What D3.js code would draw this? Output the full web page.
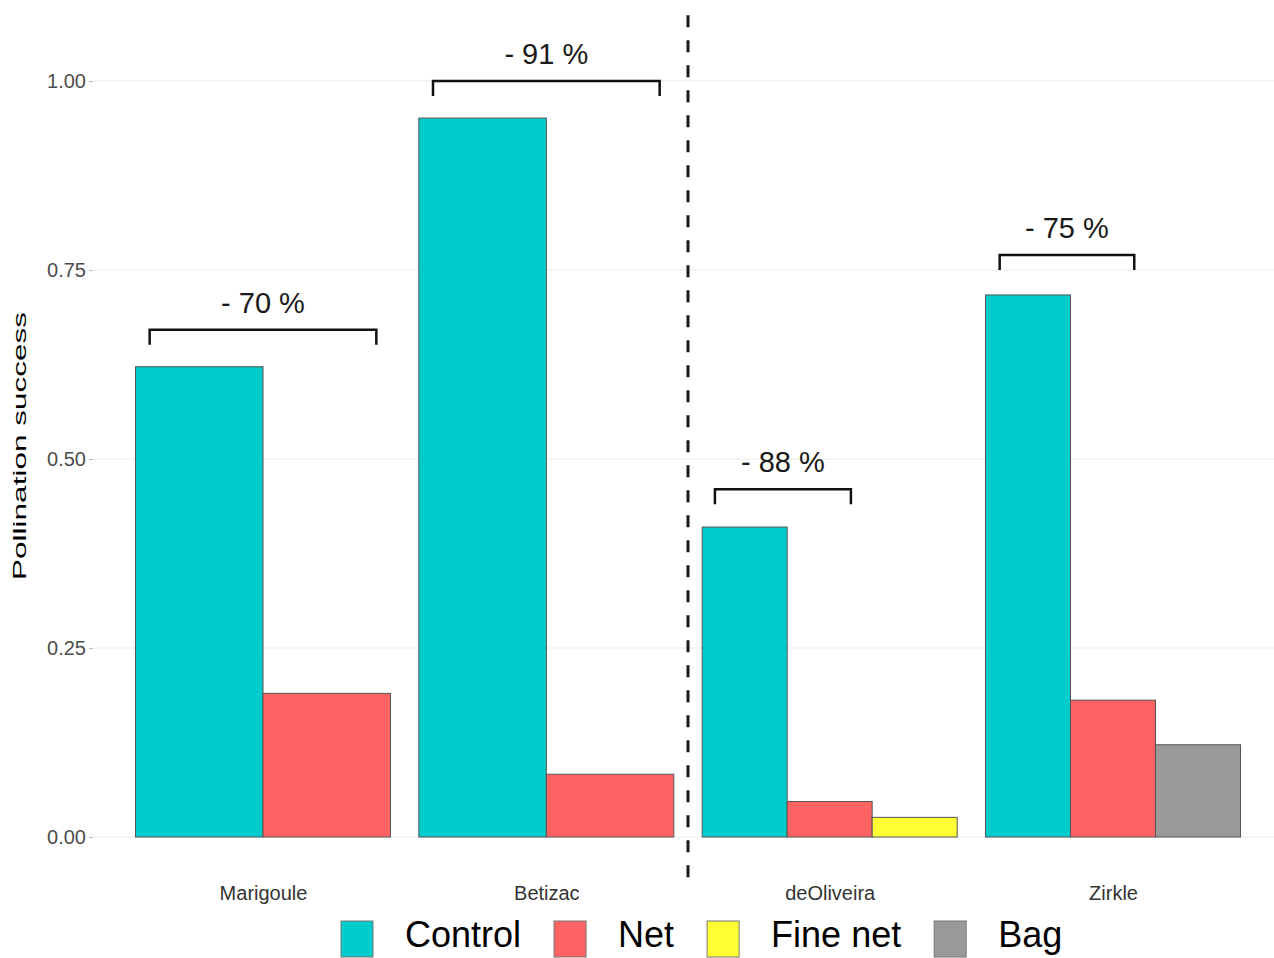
<!DOCTYPE html>
<html>
<head>
<meta charset="utf-8">
<script src="https://cdn.jsdelivr.net/npm/d3@7"></script>
<style>
  html, body { margin: 0; padding: 0; background: #fff; }
  svg { display: block; font-family: "Liberation Sans", Arial, sans-serif; }
</style>
</head>
<body>
<svg id="chart" width="1274" height="958"></svg>
<script>
// ---- Data ----
const categories = ["Marigoule", "Betizac", "deOliveira", "Zirkle"];
const treatments = ["Control", "Net", "Fine net", "Bag"];
const groupTreatments = [
  ["Control", "Net"],
  ["Control", "Net"],
  ["Control", "Net", "Fine net"],
  ["Control", "Net", "Bag"]
];
const groupValues = [
  [0.622, 0.190],
  [0.951, 0.083],
  [0.410, 0.047, 0.026],
  [0.717, 0.181, 0.122]
];
const reductionLabels = ["- 70 %", "- 91 %", "- 88 %", "- 75 %"];
const bracketY = [0.671, 1.0, 0.460, 0.770];
const bracketFrom = [-0.4, -0.4, -0.405, -0.4];
const bracketTo = [0.4, 0.4, 0.075, 0.075];
const yTicks = [0, 0.25, 0.5, 0.75, 1.0];
const colors = ["#00CCCC", "#FF6262", "#FFFF33", "#999999"];

// ---- Layout ----
const svg = d3.select("#chart");
const W = 1274, H = 958;
const panelLeft = 93, panelRight = 1283;

// ggplot-like discrete expansion of 0.6 step on each side
const step = (panelRight - panelLeft) / (categories.length - 1 + 1.2);
const xc = d3.scalePoint().domain(categories).range([panelLeft + 0.6 * step, panelRight - 0.6 * step]);

const y = d3.scaleLinear().domain([0, 1]).range([837, 81]);
const color = d3.scaleOrdinal().domain(treatments).range(colors);

// Grid lines
svg.append("g").selectAll("line").data(yTicks).join("line")
  .attr("x1", panelLeft).attr("x2", W)
  .attr("y1", d => y(d)).attr("y2", d => y(d))
  .attr("stroke", "#EBEBEB").attr("stroke-width", 1.2);

// Y axis
const yAxis = d3.axisLeft(y).tickValues(yTicks).tickFormat(d3.format(".2f")).tickSize(4).tickPadding(3);
const ya = svg.append("g").attr("transform", `translate(${panelLeft},0)`).call(yAxis);
ya.select(".domain").remove();
ya.selectAll(".tick line").attr("stroke", "#BBBBBB");
ya.selectAll(".tick text").attr("fill", "#4D4D4D").attr("font-size", 20)
  .attr("font-family", "Liberation Sans, Arial, sans-serif");

// Bars
const barsG = svg.append("g");
categories.forEach((cat, i) => {
  const groupW = 0.9 * step;
  const sub = d3.scaleBand().domain(groupTreatments[i]).range([xc(cat) - groupW / 2, xc(cat) + groupW / 2]);
  barsG.append("g").selectAll("rect")
    .data(groupTreatments[i].map((t, j) => ({ t, v: groupValues[i][j] })))
    .join("rect")
    .attr("x", d => sub(d.t))
    .attr("width", sub.bandwidth())
    .attr("y", d => y(d.v))
    .attr("height", d => y(0) - y(d.v))
    .attr("fill", d => color(d.t))
    .attr("stroke", "#555555")
    .attr("stroke-width", 1);
});

// X axis labels
const xa = svg.append("g").attr("transform", `translate(0,${y(0)})`)
  .call(d3.axisBottom(xc).tickSize(0).tickPadding(48));
xa.select(".domain").remove();
xa.selectAll(".tick text").attr("fill", "#333333").attr("font-size", 20)
  .attr("font-family", "Liberation Sans, Arial, sans-serif")
  .attr("dy", 0).attr("y", 63);

// Dashed separator between Betizac and deOliveira
const sepX = (xc("Betizac") + xc("deOliveira")) / 2;
svg.append("line")
  .attr("x1", sepX).attr("x2", sepX)
  .attr("y1", y(1.087)).attr("y2", y(-0.057))
  .attr("stroke", "#1a1a1a").attr("stroke-width", 3)
  .attr("stroke-dasharray", "12,13");

// Brackets & reduction labels
const tickDrop = 0.02;
categories.forEach((cat, i) => {
  const x1 = xc(cat) + bracketFrom[i] * step;
  const x2 = xc(cat) + bracketTo[i] * step;
  const by = y(bracketY[i]);
  const bt = y(bracketY[i] - tickDrop);
  svg.append("path")
    .attr("d", `M${x1},${bt}V${by}H${x2}V${bt}`)
    .attr("fill", "none").attr("stroke", "#111").attr("stroke-width", 2.5);
  svg.append("text")
    .attr("x", (x1 + x2) / 2).attr("y", by - 17)
    .attr("text-anchor", "middle").attr("font-size", 29).attr("fill", "#1a1a1a")
    .text(reductionLabels[i]);
});

// Y axis title (tall, narrow lettering as in the reference)
svg.append("text")
  .attr("transform", `translate(26,446) rotate(-90) scale(1,0.6)`)
  .attr("text-anchor", "middle")
  .attr("font-size", 31.5)
  .attr("fill", "#000")
  .text("Pollination success");

// Legend
const legend = svg.append("g");
let lx = 341;
treatments.forEach((t, i) => {
  legend.append("rect")
    .attr("x", lx).attr("y", 921).attr("width", 32).attr("height", 36)
    .attr("fill", color(t)).attr("stroke", "#777").attr("stroke-width", 1);
  const txt = legend.append("text")
    .attr("x", lx + 64).attr("y", 947)
    .attr("font-size", 36).attr("fill", "#000")
    .text(t);
  const w = txt.node().getComputedTextLength();
  lx = lx + 64 + w + 33;
});
</script>
</body>
</html>
